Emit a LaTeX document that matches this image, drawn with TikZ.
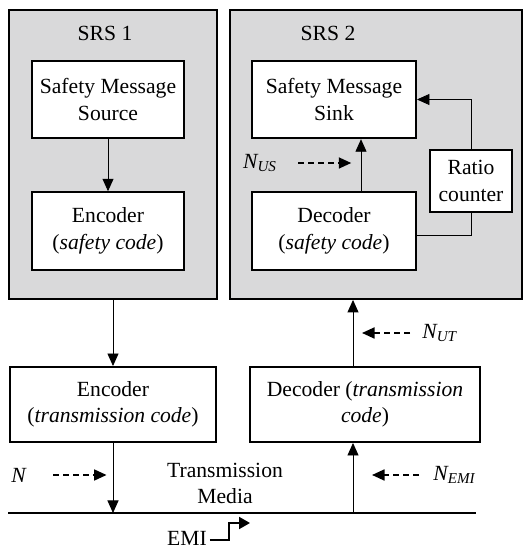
\documentclass[tikz,border=0pt]{standalone}
\usepackage{fontspec}
\setmainfont{Liberation Serif}
\usetikzlibrary{arrows.meta, positioning, calc}
\definecolor{grisclaro}{HTML}{D9D9DA}
\colorlet{colFondo}{grisclaro}
\colorlet{colLinea}{black}
\newcommand{\letra}{\fontsize{12.3}{15}\selectfont}
\tikzset{
  cajaBase/.style={
    draw=colLinea, line width=1.1pt,
    align=center, font=\letra, fill=white, inner sep=1pt
  },
  cajaSistema/.style={draw=colLinea, line width=1.1pt, fill=colFondo},
  cajaBloque/.style={cajaBase, minimum width=3.04cm, minimum height=1.55cm},
  cajaAncha/.style={cajaBloque, minimum width=3.28cm},
  cajaTrans/.style={cajaBase, minimum height=1.5cm},
  flecha/.style={-{Triangle[length=2.5mm, width=2.2mm]}, line width=0.5pt, colLinea},
  flechaRuido/.style={-{Triangle[length=2.5mm, width=2.2mm]}, line width=1pt,
    dash pattern=on 3.5pt off 2.2pt, colLinea},
  etiquetaRuido/.style={font=\letra\itshape, inner sep=0pt},
  etiqueta/.style={font=\letra, inner sep=1pt, align=center},
}
\newcommand{\ruido}[1]{N\textsubscript{#1}}

\begin{document}
\begin{tikzpicture}
    \useasboundingbox (0,0) rectangle (10.44,10.98);

    \node[cajaSistema, minimum width=4.16cm, minimum height=5.78cm,
      anchor=north west] (srs1) at (0.16,10.80) {};
    \node[cajaSistema, minimum width=5.84cm, minimum height=5.78cm,
      anchor=north west] (srs2) at (4.58,10.80) {};
    \node[etiqueta] (nomSRS1) at (2.10,10.32) {SRS 1};
    \node[etiqueta] (nomSRS2) at (6.56,10.32) {SRS 2};

    \node[cajaBloque] (fuente) at (2.16,8.99) {Safety Message\\Source};
    \node[cajaBloque] (codSeg) at (2.16,6.36) {Encoder\\(\textit{safety code})};
    \node[cajaAncha] (sumidero) at (6.68,8.99) {Safety Message\\Sink};
    \node[cajaAncha] (decSeg) at (6.68,6.36) {Decoder\\(\textit{safety code})};
    \node[cajaBase, minimum width=1.64cm, minimum height=1.24cm]
      (contador) at (9.42,7.36) {Ratio\\counter};

    \node[cajaTrans, minimum width=4.12cm] (codTrans) at (2.26,2.89)
      {Encoder\\(\textit{transmission code})};
    \node[cajaTrans, minimum width=4.60cm] (decTrans) at (7.30,2.89)
      {Decoder (\textit{transmission}\\\textit{code})};

    \coordinate (medioIzq) at (0.16,0.72);
    \coordinate (medioDer) at (9.52,0.72);
    \coordinate (subida) at (7.06,0.72);
    \coordinate (haciaSumidero) at (7.22,6.36);
    \draw[line width=1.7pt] (medioIzq) -- (medioDer);
    \node[etiqueta] (medio) at (4.50,1.31) {Transmission\\Media};

    % flujo de datos
    \draw[flecha] (fuente.south) -- (codSeg.north);
    \draw[flecha] (srs1.south -| codTrans) -- (codTrans.north);
    \draw[flecha] (codTrans.south) -- (codTrans.south |- medioIzq);
    \draw[flecha] (subida) -- (subida |- decTrans.south);
    \draw[flecha] (decTrans.north -| subida) -- (subida |- srs2.south);
    \draw[flecha] (decSeg.north -| haciaSumidero) -- (haciaSumidero |- sumidero.south);
    \draw[flecha] (contador.north) |- (sumidero.east);
    \draw[line width=0.5pt] ([yshift=-0.08cm]decSeg.east) -| (contador.south);

    % fuentes de ruido
    \node[etiquetaRuido] (ruidoN) at (0.37,1.48) {N};
    \node[etiquetaRuido, anchor=west] (ruidoEMI) at (8.66,1.48) {\ruido{EMI}};
    \node[etiquetaRuido, anchor=west] (ruidoUT) at (8.44,4.32) {\ruido{UT}};
    \node[etiquetaRuido] (ruidoUS) at (5.20,7.72) {\ruido{US}};
    \draw[flechaRuido] ([xshift=0.54cm]ruidoN.east) -- ++(1.07,0);
    \draw[flechaRuido] ([xshift=-0.28cm]ruidoEMI.west) -- ++(-0.94,0);
    \draw[flechaRuido] ([xshift=-0.24cm]ruidoUT.west) -- ++(-0.96,0);
    \draw[flechaRuido] ([xshift=0.42cm]ruidoUS.east) -- ++(1.06,0);

    \node[etiqueta] (emi) at (3.74,0.22) {EMI};
    \draw[line width=1.1pt, -{Triangle[length=2.2mm, width=2.4mm]}]
      ([xshift=0.02cm, yshift=-0.04cm]emi.east) -- ++(0.38,0) |- (5.00,0.52);
\end{tikzpicture}
\end{document}
